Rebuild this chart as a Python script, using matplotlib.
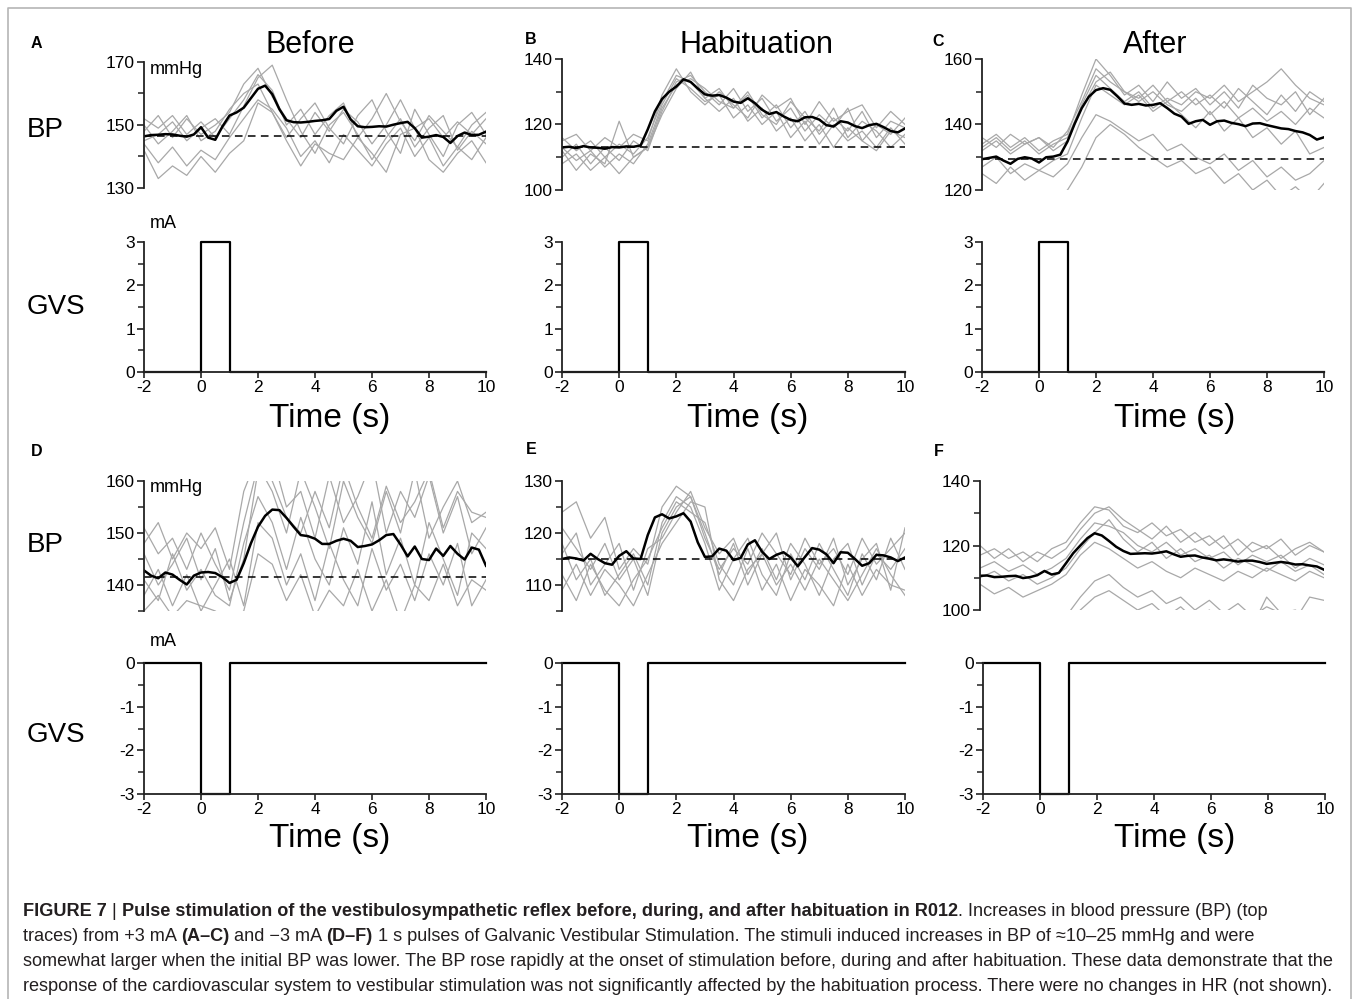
import numpy as np
import matplotlib
matplotlib.use("Agg")
import matplotlib.pyplot as plt

plt.rcParams['font.family'] = ['Liberation Sans', 'DejaVu Sans']
plt.rcParams['axes.unicode_minus'] = False

W, H = 1354, 999

# ---- data ----
t_mean = np.arange(-2, 10.001, 0.25)
t_gray = np.arange(-2, 10.001, 0.5)

mean_A = [146.4, 146.8, 146.9, 147.1, 147.0, 146.6, 146.3, 147.0, 149.3, 146.0, 145.3, 149.5, 153.0,
          154.0, 155.5, 158.5, 161.5, 162.5, 159.8, 155.0, 151.5, 150.9, 150.8, 151.0, 151.3, 151.5,
          151.9, 154.5, 155.8, 151.8, 149.6, 149.3, 149.4, 149.6, 149.5, 150.1, 150.6, 151.0, 149.0,
          146.0, 146.3, 146.8, 146.2, 144.3, 146.5, 147.6, 146.8, 146.9, 147.9]
mean_B = [113.0, 113.2, 112.8, 113.4, 113.0, 112.9, 112.6, 113.1, 113.0, 113.3, 113.2, 113.6, 118.5,
          124.0, 127.8, 130.0, 131.6, 133.8, 133.0, 131.0, 129.2, 128.8, 129.0, 128.2, 127.0, 126.6,
          128.0, 126.5, 124.5, 123.2, 123.8, 122.5, 121.4, 121.0, 122.2, 122.3, 121.5, 119.8, 119.4,
          121.0, 120.6, 119.5, 118.9, 119.8, 120.2, 119.2, 118.0, 117.6, 118.8]
mean_C = [129.4, 129.8, 130.2, 129.0, 128.0, 129.5, 130.0, 129.6, 128.4, 130.0, 130.2, 130.8, 134.8,
          140.2, 145.0, 148.5, 150.5, 151.1, 150.6, 148.6, 146.4, 146.0, 146.3, 145.8, 146.0, 146.5,
          145.0, 143.3, 142.4, 140.2, 141.0, 141.4, 139.9, 141.0, 141.2, 140.5, 140.1, 139.5, 140.3,
          140.4, 139.8, 139.3, 138.8, 138.6, 138.0, 137.6, 136.8, 135.4, 136.1]
mean_D = [142.8, 141.8, 141.3, 142.4, 142.0, 141.0, 140.1, 141.8, 142.4, 142.5, 142.3, 141.5, 140.4,
          141.0, 144.2, 148.0, 151.2, 153.3, 154.5, 154.4, 152.9, 151.2, 149.6, 149.4, 148.9, 147.9,
          147.9, 148.5, 148.9, 148.5, 147.3, 147.5, 147.8, 148.6, 149.6, 149.8, 147.8, 145.5, 147.4,
          145.0, 144.8, 147.0, 145.6, 147.5, 146.0, 144.9, 147.2, 146.8, 143.7]
mean_E = [115.0, 115.3, 115.1, 114.7, 116.0, 115.0, 114.2, 113.9, 115.6, 116.5, 115.1, 115.0, 119.6,
          123.0, 123.6, 122.8, 123.2, 123.8, 122.2, 118.2, 115.4, 115.5, 117.0, 116.6, 114.8, 115.2,
          117.8, 118.6, 116.4, 115.0, 115.8, 116.3, 115.3, 113.6, 115.4, 117.1, 116.8, 115.9, 114.2,
          116.3, 116.2, 115.0, 113.7, 114.2, 115.8, 115.7, 115.3, 114.6, 115.3]
mean_F = [110.6, 110.7, 110.2, 110.3, 110.5, 110.6, 109.9, 110.2, 110.8, 112.1, 111.0, 111.5, 114.5,
          117.6, 120.0, 122.3, 123.8, 123.1, 121.4, 119.6, 118.3, 117.4, 117.5, 117.6, 117.5, 117.8,
          118.2, 117.3, 116.5, 116.8, 116.9, 116.3, 115.9, 115.4, 115.7, 115.4, 115.0, 115.3, 115.3,
          114.9, 114.3, 114.6, 114.9, 114.6, 114.1, 114.2, 113.8, 113.5, 112.5]

trials_A = [
    [152, 149, 153, 147, 151, 146, 152, 158, 166, 161, 150, 155, 147, 153, 157, 146, 152, 160, 151, 145, 153, 148, 143, 150, 154],
    [148, 153, 146, 152, 147, 150, 154, 163, 168, 159, 152, 146, 154, 148, 155, 151, 144, 150, 158, 149, 152, 146, 151, 147, 152],
    [145, 147, 151, 145, 149, 152, 147, 156, 165, 169, 158, 148, 141, 150, 154, 147, 139, 146, 152, 143, 149, 153, 142, 148, 144],
    [150, 144, 148, 153, 145, 148, 155, 160, 163, 154, 146, 152, 157, 149, 144, 153, 158, 148, 141, 155, 147, 140, 150, 154, 147],
    [144, 138, 143, 137, 142, 139, 146, 152, 158, 155, 149, 140, 145, 138, 147, 142, 137, 144, 149, 140, 146, 137, 143, 139, 146],
    [142, 133, 137, 134, 140, 135, 141, 145, 157, 154, 145, 137, 144, 141, 139, 146, 141, 135, 147, 149, 139, 135, 141, 145, 138],
]
trials_B = [
    [116, 112, 115, 110, 114, 111, 116, 127, 135, 133, 128, 131, 125, 129, 122, 126, 119, 124, 117, 122, 118, 124, 116, 121, 119],
    [110, 114, 108, 113, 109, 115, 112, 124, 133, 135, 130, 126, 131, 124, 128, 121, 125, 118, 123, 119, 125, 115, 120, 117, 122],
    [113, 109, 112, 107, 111, 108, 114, 126, 134, 131, 127, 129, 122, 126, 120, 124, 116, 121, 114, 120, 115, 118, 113, 119, 114],
    [108, 111, 106, 110, 105, 110, 113, 123, 131, 136, 128, 124, 128, 121, 125, 118, 122, 115, 120, 113, 119, 115, 112, 118, 116],
    [115, 117, 112, 116, 113, 117, 115, 129, 137, 130, 126, 130, 126, 122, 129, 125, 128, 120, 127, 121, 124, 126, 119, 124, 120],
    [112, 106, 111, 108, 121, 110, 113, 125, 132, 134, 131, 127, 125, 130, 123, 120, 127, 122, 118, 125, 116, 121, 118, 113, 117],
]
trials_C = [
    [136, 133, 137, 134, 136, 133, 138, 147, 157, 153, 150, 148, 152, 147, 150, 146, 149, 145, 151, 147, 143, 149, 144, 150, 147],
    [134, 137, 133, 136, 132, 135, 137, 149, 160, 155, 149, 152, 147, 153, 148, 151, 146, 150, 145, 152, 148, 146, 150, 143, 148],
    [132, 135, 131, 134, 136, 132, 135, 145, 153, 156, 150, 147, 150, 146, 144, 148, 143, 147, 142, 145, 141, 144, 140, 145, 142],
    [127, 130, 125, 128, 126, 129, 131, 142, 152, 149, 146, 149, 144, 147, 143, 139, 144, 138, 142, 136, 139, 134, 138, 131, 133],
    [125, 122, 127, 123, 126, 124, 128, 136, 143, 141, 138, 135, 137, 132, 134, 130, 128, 131, 126, 129, 124, 127, 123, 125, 129],
    [118, 116, 119, 115, 118, 117, 120, 127, 136, 140, 137, 133, 130, 127, 129, 125, 127, 122, 125, 120, 123, 118, 121, 117, 122],
    [133, 136, 132, 135, 131, 134, 136, 146, 155, 151, 147, 150, 145, 148, 146, 150, 148, 152, 147, 150, 153, 157, 152, 148, 146],
]
trials_D = [
    [151, 146, 149, 143, 150, 144, 139, 152, 163, 158, 150, 162, 155, 147, 160, 153, 148, 158, 150, 162, 149, 155, 160, 152, 154],
    [146, 140, 144, 149, 141, 147, 137, 145, 162, 165, 155, 158, 149, 161, 152, 157, 164, 150, 158, 153, 161, 150, 157, 146, 151],
    [141, 137, 146, 139, 143, 138, 136, 148, 157, 152, 143, 153, 145, 140, 151, 144, 156, 142, 149, 140, 152, 145, 138, 150, 147],
    [138, 143, 136, 142, 135, 140, 145, 136, 152, 149, 140, 146, 137, 148, 141, 136, 147, 139, 144, 137, 146, 140, 148, 136, 141],
    [135, 138, 134, 137, 136, 135, 133, 135, 146, 144, 137, 142, 134, 139, 136, 143, 135, 141, 133, 140, 137, 144, 136, 141, 139],
    [148, 152, 145, 150, 147, 151, 143, 158, 165, 160, 153, 150, 158, 151, 163, 155, 149, 159, 152, 156, 162, 151, 158, 154, 153],
]
trials_E = [
    [124, 126, 119, 123, 113, 117, 114, 125, 129, 127, 120, 112, 118, 110, 116, 120, 111, 117, 113, 119, 110, 115, 118, 109, 121],
    [118, 111, 115, 108, 112, 116, 110, 122, 127, 125, 118, 109, 115, 119, 112, 108, 116, 111, 118, 113, 108, 116, 111, 119, 113],
    [112, 107, 114, 109, 106, 111, 115, 121, 126, 124, 122, 114, 110, 117, 109, 114, 107, 113, 110, 106, 114, 108, 113, 110, 109],
    [116, 120, 110, 114, 118, 109, 117, 119, 124, 128, 121, 116, 119, 112, 117, 111, 118, 114, 108, 115, 118, 110, 116, 113, 117],
    [109, 114, 108, 113, 110, 106, 112, 118, 122, 126, 125, 111, 107, 113, 116, 110, 114, 109, 115, 111, 107, 112, 117, 112, 108],
    [121, 117, 113, 118, 111, 115, 108, 120, 125, 127, 119, 113, 117, 114, 120, 116, 112, 119, 114, 117, 112, 119, 114, 117, 120],
]
trials_F = [
    [117, 119, 116, 118, 115, 119, 121, 127, 132, 131, 126, 124, 127, 123, 125, 121, 123, 119, 122, 118, 120, 116, 119, 121, 118],
    [120, 116, 119, 115, 118, 116, 119, 125, 130, 132, 128, 125, 122, 126, 121, 124, 120, 123, 117, 121, 119, 122, 117, 120, 118],
    [113, 115, 112, 114, 111, 113, 116, 122, 127, 126, 124, 120, 118, 121, 117, 119, 116, 118, 114, 117, 115, 117, 113, 116, 114],
    [110, 112, 109, 111, 108, 110, 113, 119, 124, 128, 122, 118, 121, 116, 119, 115, 117, 113, 116, 114, 112, 115, 112, 114, 111],
    [108, 105, 107, 104, 106, 108, 111, 117, 121, 119, 116, 113, 115, 112, 110, 113, 111, 109, 112, 110, 113, 111, 109, 112, 110],
    [95, 93, 96, 94, 97, 95, 98, 104, 109, 111, 107, 104, 106, 102, 104, 100, 103, 99, 102, 98, 101, 99, 100, 97, 99],
    [92, 90, 93, 91, 94, 92, 95, 100, 104, 106, 103, 100, 102, 98, 101, 97, 100, 96, 99, 95, 104, 99, 97, 104, 103],
]

baseline = {"A": 146.6, "B": 113.1, "C": 129.4, "D": 141.5, "E": 115.0, "F": None}

gvs_t = [-2, 0, 0, 1, 1, 10]
gvs_pos = [0, 0, 3, 3, 0, 0]
gvs_neg = [0, 0, -3, -3, 0, 0]

bp_ylim = {"A": (130, 170), "B": (100, 140), "C": (120, 160),
           "D": (135, 160), "E": (105, 130), "F": (100, 140)}
bp_major = {"A": [130, 150, 170], "B": [100, 120, 140], "C": [120, 140, 160],
            "D": [140, 150, 160], "E": [110, 120, 130], "F": [100, 120, 140]}
bp_minor = {"A": [140, 160], "B": [110, 130], "C": [130, 150],
            "D": [135, 145, 155], "E": [105, 115, 125], "F": [110, 130]}
time_ticks = [-2, 0, 2, 4, 6, 8, 10]
titles = ["Before", "Habituation", "After"]

# ---- layout (pixel boxes: left, top, right, bottom) ----
bp_box = {"A": (144, 62, 486, 188), "B": (562, 59, 905, 190), "C": (982, 59, 1324, 190),
          "D": (144, 481, 486, 611), "E": (562, 481, 905, 611), "F": (980, 481, 1324, 610)}
gvs_box = {"A": (144, 242, 486, 372), "B": (562, 242, 905, 372), "C": (982, 242, 1324, 372),
           "D": (144, 663, 486, 794), "E": (562, 663, 905, 794), "F": (983, 663, 1325, 794)}

fig = plt.figure(figsize=(W / 100, H / 100), dpi=100)
fig.patch.set_facecolor("white")


def px_axes(box):
    l, t, r, b = box
    return fig.add_axes([l / W, 1 - b / H, (r - l) / W, (b - t) / H])


def style_axes(ax, bottom=False):
    for s in ["top", "right"]:
        ax.spines[s].set_visible(False)
    ax.spines["bottom"].set_visible(bottom)
    for s in ["left", "bottom"]:
        ax.spines[s].set_linewidth(1.3)
        ax.spines[s].set_color("#222222")
    ax.tick_params(axis="y", which="major", direction="out", length=5, width=1.2,
                   labelsize=12.5, pad=1.5, colors="#222222", labelcolor="black")
    ax.tick_params(axis="y", which="minor", direction="out", length=4, width=1.1, colors="#222222")
    ax.tick_params(axis="x", which="major", direction="out", length=4, width=1.2,
                   labelsize=12.5, pad=1.5, colors="#222222", labelcolor="black")
    if not bottom:
        ax.tick_params(axis="x", which="both", bottom=False, labelbottom=False)
    ax.patch.set_alpha(0)


trials = {"A": trials_A, "B": trials_B, "C": trials_C, "D": trials_D, "E": trials_E, "F": trials_F}
means = {"A": mean_A, "B": mean_B, "C": mean_C, "D": mean_D, "E": mean_E, "F": mean_F}

for key in "ABCDEF":
    ax = px_axes(bp_box[key])
    for tr in trials[key]:
        ax.plot(t_gray, tr, color="#a8a8a8", lw=0.9)
    if baseline[key] is not None:
        ax.plot([-2, 10], [baseline[key]] * 2, color="black", lw=1.1, ls=(0, (5, 3.5)))
    ax.plot(t_mean, means[key], color="black", lw=1.8)
    ax.set_xlim(-2, 10)
    ax.set_ylim(*bp_ylim[key])
    ax.set_yticks(bp_major[key])
    ax.set_yticks(bp_minor[key], minor=True)
    style_axes(ax, bottom=False)

    gx = px_axes(gvs_box[key])
    pos = key in "ABC"
    gx.plot(gvs_t, gvs_pos if pos else gvs_neg, color="black", lw=1.6, clip_on=False)
    gx.set_xlim(-2, 10)
    if pos:
        gx.set_ylim(0, 3)
        gx.set_yticks([0, 1, 2, 3])
        gx.set_yticks([0.5, 1.5, 2.5], minor=True)
    else:
        gx.set_ylim(-3, 0)
        gx.set_yticks([-3, -2, -1, 0])
        gx.set_yticks([-2.5, -1.5, -0.5], minor=True)
    gx.set_xticks(time_ticks)
    style_axes(gx, bottom=True)

# ---- overlay for text in pixel coordinates ----
ov = fig.add_axes([0, 0, 1, 1])
ov.set_xlim(0, W)
ov.set_ylim(H, 0)
ov.axis("off")
ov.patch.set_alpha(0)

# frame
ov.plot([8, 8, 1351, 1351], [999, 8, 8, 999], color="#b5b5b5", lw=1.2, clip_on=False)

for txt, x in zip(titles, [310, 757, 1155]):
    ov.text(x, 45, txt, fontsize=22, ha="center", va="center")

for lab, (x, y) in zip("ABCDEF", [(36, 43), (531, 40), (938, 41), (37, 451), (531, 450), (939, 451)]):
    ov.text(x, y, lab, fontsize=11.5, fontweight="bold", ha="center", va="center")

for y in [130, 545]:
    ov.text(27, y, "BP", fontsize=20, ha="left", va="center")
for y in [307, 735]:
    ov.text(27, y, "GVS", fontsize=20, ha="left", va="center")

ov.text(150, 70, "mmHg", fontsize=13, ha="left", va="center")
ov.text(150, 488, "mmHg", fontsize=13, ha="left", va="center")
ov.text(150, 223, "mA", fontsize=13, ha="left", va="center")
ov.text(150, 641, "mA", fontsize=13, ha="left", va="center")

for x in [330, 748, 1175]:
    ov.text(x, 418, "Time (s)", fontsize=24, ha="center", va="center")
    ov.text(x, 839, "Time (s)", fontsize=24, ha="center", va="center")

# ---- caption ----
CAP = dict(fontsize=13.1, family=["Liberation Sans", "DejaVu Sans"])
caption = [
    [("FIGURE 7", True), (" | ", False),
     ("Pulse stimulation of the vestibulosympathetic reflex before, during, and after habituation in R012", True),
     (". Increases in blood pressure (BP) (top", False)],
    [("traces) from +3 mA ", False), ("(A\u2013C)", True), (" and \u22123 mA ", False), ("(D\u2013F)", True),
     (" 1 s pulses of Galvanic Vestibular Stimulation. The stimuli induced increases in BP of \u224810\u201325 mmHg and were", False)],
    [("somewhat larger when the initial BP was lower. The BP rose rapidly at the onset of stimulation before, during and after habituation. These data demonstrate that the", False)],
    [("response of the cardiovascular system to vestibular stimulation was not significantly affected by the habituation process. There were no changes in HR (not shown).", False)],
]
for i, segs in enumerate(caption):
    y = 916 + i * 25
    prev = None
    for s, bold in segs:
        fw = "bold" if bold else "normal"
        if prev is None:
            prev = ov.text(23, y, s, ha="left", va="baseline", fontweight=fw, color="#231f20", **CAP)
        else:
            prev = ov.annotate(s, xy=(1, 0), xycoords=prev, ha="left", va="bottom",
                               fontweight=fw, color="#231f20", **CAP)

fig.savefig("out.png", dpi=100, facecolor="white")
